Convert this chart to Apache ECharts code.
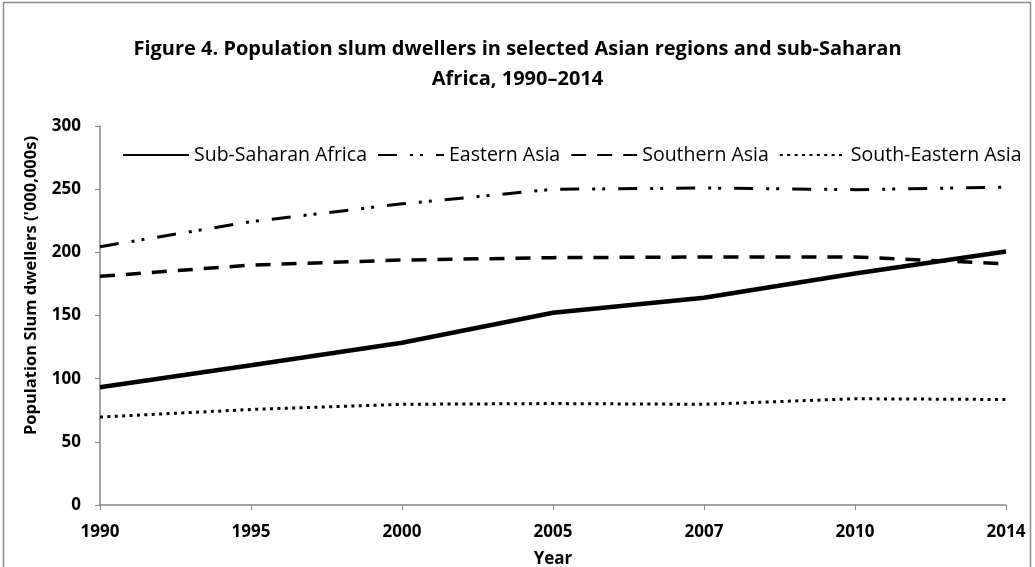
<!DOCTYPE html>
<html>
<head>
<meta charset="utf-8">
<script src="https://cdn.jsdelivr.net/npm/echarts@6/dist/echarts.min.js"></script>
<style>
  html, body { margin: 0; padding: 0; background: #fff; }
  #chart { width: 1035px; height: 567px; }
</style>
</head>
<body>
<div id="chart"></div>
<script>
// Survey years (equally spaced categories)
const years = ['1990', '1995', '2000', '2005', '2007', '2010', '2014'];

// Slum population, millions
const subSaharanAfrica = [93.2, 110.6, 128.4, 152.2, 164.0, 183.2, 200.7];
const easternAsia      = [204.5, 224.3, 238.4, 249.9, 250.9, 249.6, 251.6];
const southernAsia     = [181.0, 189.9, 193.9, 195.8, 196.3, 196.4, 190.9];
const southEasternAsia = [69.6, 75.6, 79.7, 80.3, 79.7, 84.1, 83.5];

const seriesNames = ['Sub-Saharan Africa', 'Eastern Asia', 'Southern Asia', 'South-Eastern Asia'];

const yTicks = { min: 0, max: 300, interval: 50 };

const titleLines = [
  'Figure 4. Population slum dwellers in selected Asian regions and sub-Saharan',
  'Africa, 1990\u20132014'
];

const fontFamily = '"Open Sans", "Liberation Sans", sans-serif';
const axisGray = '#868686';

const chart = echarts.init(document.getElementById('chart'), null, { renderer: 'canvas' });

function lineSeries(name, data, width, dash) {
  return {
    name: name,
    type: 'line',
    data: data,
    symbol: 'none',
    showSymbol: false,
    smooth: false,
    lineStyle: { color: '#000', width: width, type: dash, cap: 'butt' },
    itemStyle: { color: '#000' },
    emphasis: { disabled: true }
  };
}

const titleStyle = {
  fontFamily: fontFamily,
  fontSize: 20,
  fontWeight: 'bold',
  color: '#000'
};

// legend label slot widths, so the entries spread across the top of the plot
const legendSlots = [176, 112, 126, 172];

chart.setOption({
  backgroundColor: '#fff',
  animation: false,
  title: [
    { text: titleLines[0], left: 'center', top: 34, textStyle: titleStyle },
    { text: titleLines[1], left: 'center', top: 64, textStyle: titleStyle }
  ],
  legend: {
    top: 140,
    left: 117,
    itemWidth: 66,
    itemHeight: 8,
    itemGap: 10,
    itemStyle: { opacity: 0, borderWidth: 0 },
    textStyle: { fontFamily: fontFamily, fontSize: 19.5, color: '#000' },
    data: seriesNames.map((n, i) => ({ name: n, textStyle: { width: legendSlots[i] } }))
  },
  grid: { left: 100, right: 29, top: 126, bottom: 62, containLabel: false, outerBoundsMode: 'none' },
  xAxis: {
    type: 'category',
    data: years,
    boundaryGap: false,
    name: 'Year',
    nameLocation: 'middle',
    nameGap: 46,
    nameTextStyle: { fontFamily: fontFamily, fontSize: 17, fontWeight: 'bold', color: '#000' },
    axisLine: { lineStyle: { color: axisGray, width: 1.5 } },
    axisTick: { show: true, length: 5, inside: false, alignWithLabel: true, lineStyle: { color: axisGray } },
    axisLabel: { fontFamily: fontFamily, fontSize: 17, fontWeight: 'bold', color: '#000', margin: 19 },
    splitLine: { show: false }
  },
  yAxis: {
    type: 'value',
    min: yTicks.min,
    max: yTicks.max,
    interval: yTicks.interval,
    name: "Population Slum dwellers ('000,000s)",
    nameLocation: 'middle',
    nameGap: 60,
    nameRotate: 90,
    nameTextStyle: { fontFamily: fontFamily, fontSize: 16.5, fontWeight: 'bold', color: '#000', padding: [0, 0, 0, 60] },
    axisLine: { show: true, lineStyle: { color: axisGray, width: 1.5 } },
    axisTick: { show: true, length: 5, lineStyle: { color: axisGray } },
    axisLabel: { fontFamily: fontFamily, fontSize: 17, fontWeight: 'bold', color: '#000', margin: 19 },
    splitLine: { show: false }
  },
  graphic: [{
    type: 'rect',
    shape: { x: 3.5, y: 2.5, width: 1027, height: 570 },
    style: { fill: 'none', stroke: '#8c8c8c', lineWidth: 1.5 },
    silent: true,
    z: -1
  }],
  series: [
    lineSeries(seriesNames[0], subSaharanAfrica, 4.5, 'solid'),
    lineSeries(seriesNames[1], easternAsia, 3, [19, 13, 3, 7, 3, 13]),
    lineSeries(seriesNames[2], southernAsia, 3.5, [15, 11]),
    lineSeries(seriesNames[3], southEasternAsia, 3, [3, 4.4])
  ]
});
</script>
</body>
</html>
